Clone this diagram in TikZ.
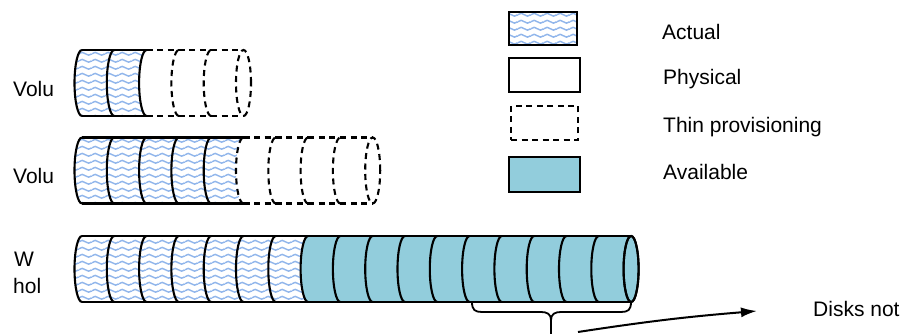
\documentclass[tikz,border=0pt]{standalone}
\usepackage{fontspec}
\setmainfont{Liberation Sans}
\usetikzlibrary{patterns,arrows.meta}
\definecolor{waveblue}{RGB}{145,182,235}
\definecolor{availfill}{RGB}{146,205,220}
\pgfdeclarepatterninherentlycolored{bluewaves}{\pgfpointorigin}{\pgfpoint{13.3pt}{6.7pt}}{\pgfpoint{13.3pt}{6.7pt}}{%
 \pgfsetcolor{waveblue}\pgfsetlinewidth{1.5pt}%
 \pgfpathmoveto{\pgfpoint{0pt}{3.35pt}}%
 \pgfpathcurveto{\pgfpoint{2.2pt}{5.3pt}}{\pgfpoint{4.45pt}{5.3pt}}{\pgfpoint{6.65pt}{3.35pt}}%
 \pgfpathcurveto{\pgfpoint{8.85pt}{1.4pt}}{\pgfpoint{11.1pt}{1.4pt}}{\pgfpoint{13.3pt}{3.35pt}}%
 \pgfusepath{stroke}}
\tikzset{
 outline/.style={line width=2.1pt, draw=black},
 thindash/.style={dash pattern=on 6pt off 4.5pt},
 lbl/.style={font=\fontsize{21}{25}\selectfont, inner sep=0pt, anchor=base west},
 actualfill/.style={pattern=bluewaves},
 availstyle/.style={fill=availfill},
 legbox/.style={outline, rectangle, inner sep=0pt, anchor=south west},
}
% helpers: #1 = row centre y, #2 = segment index, #3 = options
\newcommand\cylfill[3]{%
 \pgfmathsetmacro\ca{82+32.3*#2}\pgfmathsetmacro\cb{82+32.3*(#2+1)}%
 \path[#3] (\ca,#1+33) -- (\cb,#1+33) arc[start angle=90,end angle=270,x radius=7.5,y radius=33]
   -- (\ca,#1-33) arc[start angle=270,end angle=90,x radius=7.5,y radius=33] -- cycle;}
\newcommand\cylarc[3]{%
 \pgfmathsetmacro\ca{82+32.3*#2}%
 \draw[outline,#3] (\ca,#1-33) arc[start angle=270,end angle=90,x radius=7.5,y radius=33];}
\newcommand\cyllines[3]{%
 \pgfmathsetmacro\ca{82+32.3*#2}\pgfmathsetmacro\cb{82+32.3*(#2+1)}%
 \draw[outline,#3] (\ca,#1+33) -- (\cb,#1+33) (\ca,#1-33) -- (\cb,#1-33);}
\newcommand\cylend[3]{%
 \pgfmathsetmacro\ca{82+32.3*#2}%
 \draw[outline,#3] (\ca,#1) ellipse[x radius=7.5,y radius=33];}
\begin{document}
\begin{tikzpicture}[x=1pt,y=1pt]
\useasboundingbox (0,0) rectangle (903,334);
% ---- row 1 ----
\foreach \k in {0,1} {\cylfill{251}{\k}{actualfill}}
\foreach \k in {0,1,2} {\cylarc{251}{\k}{}}
\foreach \k in {3,4} {\cylarc{251}{\k}{thindash}}
\foreach \k in {0,1} {\cyllines{251}{\k}{}}
\foreach \k in {2,3,4} {\cyllines{251}{\k}{thindash}}
\cylend{251}{5}{thindash}
% ---- row 2 ----
\foreach \k in {0,...,4} {\cylfill{163.5}{\k}{actualfill}}
\foreach \k in {0,...,4} {\cylarc{163.5}{\k}{}}
\foreach \k in {5,...,8} {\cylarc{163.5}{\k}{thindash}}
\foreach \k in {0,...,4} {\cyllines{163.5}{\k}{}}
\foreach \k in {5,...,8} {\cyllines{163.5}{\k}{thindash}}
\cylend{163.5}{9}{thindash}
% ---- row 3 ----
\foreach \k in {0,...,6} {\cylfill{65}{\k}{actualfill}}
\foreach \k in {7,...,16} {\cylfill{65}{\k}{availstyle}}
\cylend{65}{17}{fill=availfill}
\foreach \k in {0,...,16} {\cylarc{65}{\k}{}}
\foreach \k in {0,...,16} {\cyllines{65}{\k}{}}
\cylend{65}{17}{}
% ---- brace ----
\draw[line width=1.8pt] (472,32) .. controls (472,24) and (475,22) .. (482,22) -- (541,22)
  .. controls (547,22) and (551,20) .. (551,14) -- (551,0);
\draw[line width=1.8pt] (631,32) .. controls (631,24) and (628,22) .. (621,22) -- (561,22)
  .. controls (555,22) and (551,20) .. (551,14);
% ---- arrow ----
\coordinate (arrS) at (578,2);
\coordinate (arrE) at (757,23);
\draw[line width=2pt, -{Latex[length=16pt,width=10pt]}] (arrS) to[bend left=2] (arrE);
% ---- labels ----
\node[lbl] (v1) at (13,237.3) {Volu};
\node[lbl] (v2) at (13,150) {Volu};
\node[lbl] (w1) at (14,67.3) {W};
\node[lbl] (w2) at (13,40.7) {hol};
\node[lbl] (dn) at (813,17.3) {Disks not};
% ---- legend ----
\node[legbox, pattern=bluewaves, minimum width=68pt, minimum height=33pt] (legA) at (508,288) {};
\node[legbox, minimum width=71pt, minimum height=34pt] (legP) at (508,241) {};
\node[legbox, thindash, minimum width=67pt, minimum height=34pt] (legT) at (510,193) {};
\node[legbox, fill=availfill, minimum width=71pt, minimum height=35pt] (legV) at (508,141) {};
\node[lbl] (tA) at (662,294.7) {Actual};
\node[lbl] (tP) at (663,249) {Physical};
\node[lbl] (tT) at (663,201.3) {Thin provisioning};
\node[lbl] (tV) at (663,154.7) {Available};
\end{tikzpicture}
\end{document}
